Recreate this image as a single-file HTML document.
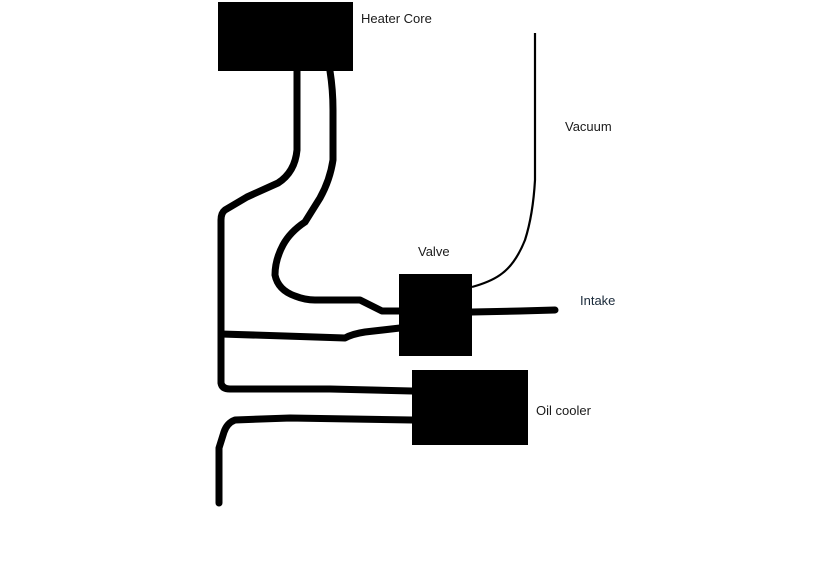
<!DOCTYPE html>
<html><head><style>
html,body{margin:0;padding:0;background:#fff;}
svg{display:block}
text{font-family:"Liberation Sans",sans-serif;font-size:13px;}
</style></head><body>
<svg width="830" height="562" viewBox="0 0 830 562" xmlns="http://www.w3.org/2000/svg">
<rect x="0" y="0" width="830" height="562" fill="#fff"/>
<g fill="none" stroke="#000" stroke-width="7" stroke-linecap="round" stroke-linejoin="round">
<path d="M297,71 L297,150 Q295,172 278,183 L247,197 L225,210 Q221,213 221,220 L221,383 Q222,389 230,389 L330,389 L412,391"/>
<path d="M221,334 L285,336 L345,338 Q352,334 365,332 L400,328"/>
<path d="M330,71 Q333,90 333,110 L333,160 Q330,180 320,198 L305,222 Q290,232 283,245 Q275,260 275,275 Q278,290 295,296 Q305,300 315,300 L360,300 L382,311 L400,311"/>
<path d="M472,312 L520,311 L555,310"/>
<path d="M412,420 L290,418 L235,420 Q227,423 224,432 L219,448 L219,503"/>
</g>
<path d="M535,33 L535,180 Q533,215 525,240 Q515,265 500,275 Q490,282 472,287" fill="none" stroke="#000" stroke-width="2.2"/>
<rect x="218" y="2" width="135" height="69" fill="#000"/>
<rect x="399" y="274" width="73" height="82" fill="#000"/>
<rect x="412" y="370" width="116" height="75" fill="#000"/>
<text x="361" y="23" fill="#1a1a1a">Heater Core</text>
<text x="565" y="131" fill="#1a1a1a">Vacuum</text>
<text x="418" y="256" fill="#1a1a1a">Valve</text>
<text x="580" y="305" fill="#1a2a3a">Intake</text>
<text x="536" y="415" fill="#1a1a1a">Oil cooler</text>
</svg>
</body></html>
